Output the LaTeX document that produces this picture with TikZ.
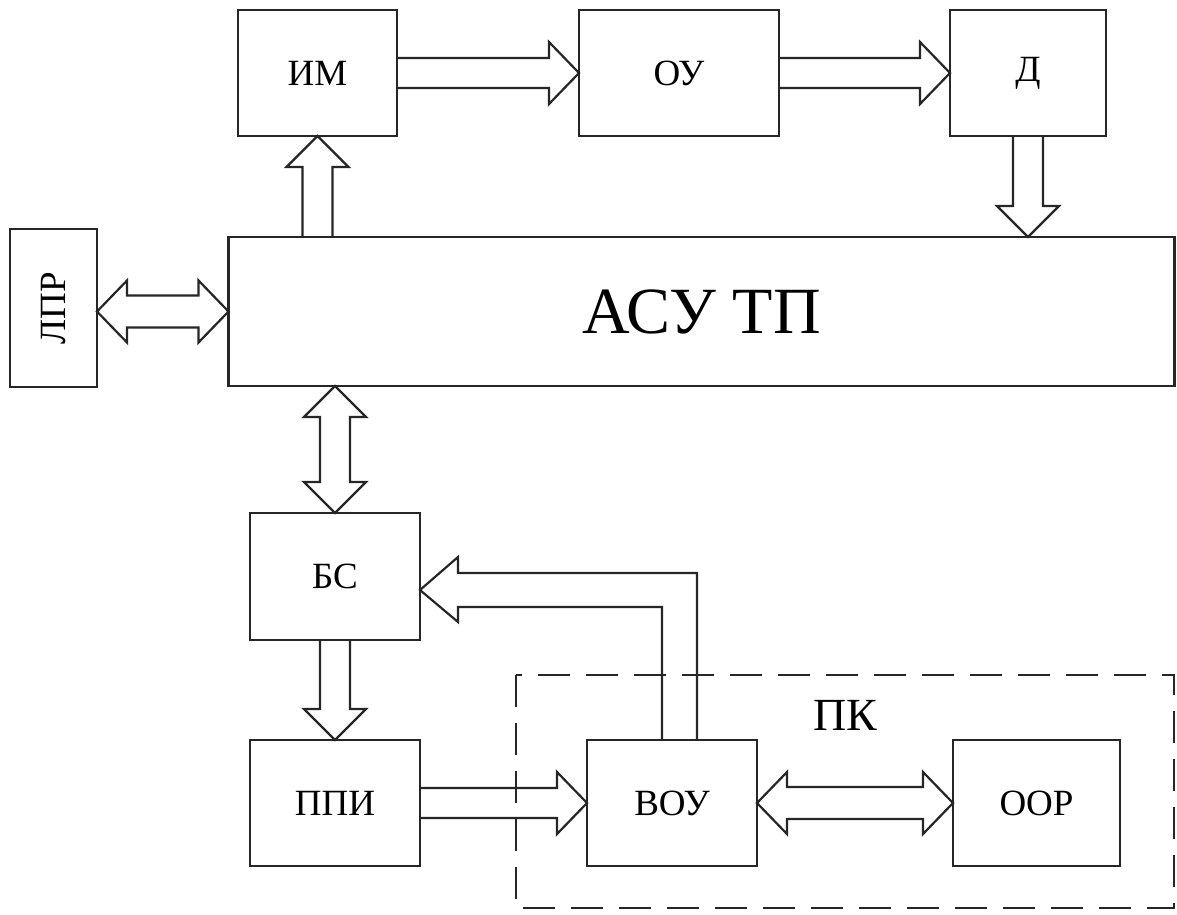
\documentclass[tikz,border=0pt]{standalone}
\usepackage{fontspec}
\setmainfont{Liberation Serif}
\usetikzlibrary{calc}
\tikzset{
  blk/.style={draw=black!85, line width=2.2pt, inner sep=0pt, outer sep=0pt, font=\fontsize{37}{40}\selectfont},
  fat/.style={draw=black!85, line width=2.2pt, line join=miter},
  pkframe/.style={draw=black!85, line width=2.2pt, dash pattern=on 32pt off 16pt}
}
% horizontal arrow right: #1 start, #2 tip
\newcommand\fatR[2]{\draw[fat] ($(#1)+(0,-15)$) -- ($(#2)+(-30,-15)$) -- ($(#2)+(-30,-31)$) -- (#2) -- ($(#2)+(-30,31)$) -- ($(#2)+(-30,15)$) -- ($(#1)+(0,15)$);}
% vertical arrow down (pixel y grows down): #1 start, #2 tip
\newcommand\fatD[2]{\draw[fat] ($(#1)+(-15,0)$) -- ($(#2)+(-15,-31)$) -- ($(#2)+(-31,-31)$) -- (#2) -- ($(#2)+(31,-31)$) -- ($(#2)+(15,-31)$) -- ($(#1)+(15,0)$);}
% vertical arrow up
\newcommand\fatU[2]{\draw[fat] ($(#1)+(-15,0)$) -- ($(#2)+(-15,31)$) -- ($(#2)+(-31,31)$) -- (#2) -- ($(#2)+(31,31)$) -- ($(#2)+(15,31)$) -- ($(#1)+(15,0)$);}
% horizontal double arrow: #1 left tip, #2 right tip
\newcommand\fatLR[2]{\draw[fat] (#1) -- ($(#1)+(30,-31)$) -- ($(#1)+(30,-16)$) -- ($(#2)+(-30,-16)$) -- ($(#2)+(-30,-31)$) -- (#2) -- ($(#2)+(-30,31)$) -- ($(#2)+(-30,16)$) -- ($(#1)+(30,16)$) -- ($(#1)+(30,31)$) -- cycle;}
% vertical double arrow: #1 top tip, #2 bottom tip
\newcommand\fatUD[2]{\draw[fat] (#1) -- ($(#1)+(-31,31)$) -- ($(#1)+(-15,31)$) -- ($(#2)+(-15,-31)$) -- ($(#2)+(-31,-31)$) -- (#2) -- ($(#2)+(31,-31)$) -- ($(#2)+(15,-31)$) -- ($(#1)+(15,31)$) -- ($(#1)+(31,31)$) -- cycle;}
\begin{document}
\begin{tikzpicture}[x=1pt,y=-1pt]
\useasboundingbox (0,0) rectangle (1177,914);
\fill[white] (0,0) rectangle (1177,914);
% blocks
\node[blk, minimum width=159pt, minimum height=126pt] (im) at (317.5,73) {ИМ};
\node[blk, minimum width=200pt, minimum height=126pt] (ou) at (679,73) {ОУ};
\node[blk, minimum width=156pt, minimum height=126pt] (d) at (1028,73) {Д};
\node[blk, minimum width=946pt, minimum height=149pt, font=\fontsize{66}{70}\selectfont] (asu) at (701.5,311.5) {АСУ ТП};
\node[blk, minimum width=87pt, minimum height=158pt] (lpr) at (53.5,308) {};
\node[font=\fontsize{37}{40}\selectfont, rotate=90] (lprt) at (lpr.center) {ЛПР};
\node[blk, minimum width=170pt, minimum height=127pt] (bs) at (335,576.5) {БС};
\node[blk, minimum width=170pt, minimum height=126pt] (ppi) at (335,803) {ППИ};
\node[blk, minimum width=170pt, minimum height=126pt] (vou) at (672,803) {ВОУ};
\node[blk, minimum width=167pt, minimum height=126pt] (oor) at (1036.5,803) {ООР};
% dashed frame ПК
\draw[pkframe] (516,675) rectangle (1174,908);
\node[font=\fontsize{46}{50}\selectfont] (pk) at (845,715) {ПК};
% arrows
\fatR{im.east}{ou.west}
\fatR{ou.east}{d.west}
\fatU{im.south |- asu.north}{im.south}
\fatD{d.south}{d.south |- asu.north}
\fatLR{lpr.east |- asu.west}{asu.west}
\fatUD{bs.north |- asu.south}{bs.north}
\fatD{bs.south}{ppi.north}
\fatR{ppi.east}{vou.west}
\fatLR{vou.east}{oor.west}
% feedback ВОУ -> БС
\coordinate (fb) at (679.5,590);
\coordinate (fbt) at (bs.east |- fb);
\draw[fat] ($(vou.north -| fb)+(17.5,0)$) -- ($(fb)+(17.5,-17)$) -- ($(fbt)+(38,-17)$) -- ($(fbt)+(38,-33)$) -- (fbt) -- ($(fbt)+(38,32)$) -- ($(fbt)+(38,17)$) -- ($(fb)+(-17.5,17)$) -- ($(vou.north -| fb)+(-17.5,0)$);
\end{tikzpicture}
\end{document}
